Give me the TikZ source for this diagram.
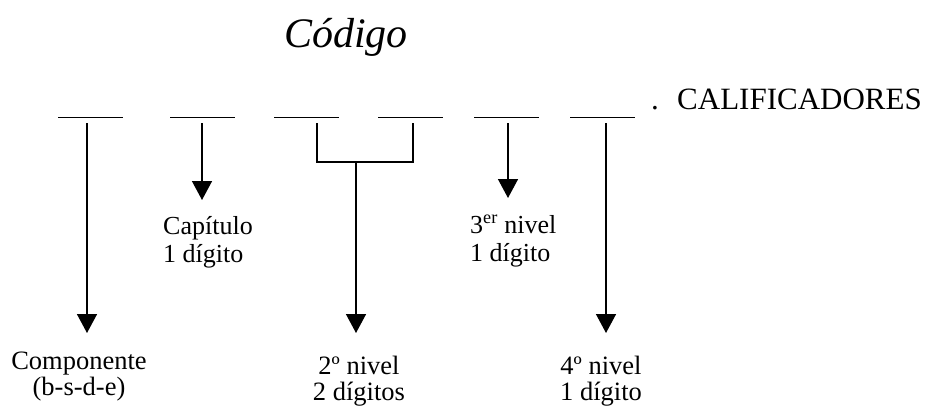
\documentclass[tikz,border=0pt]{standalone}
\usepackage{fontspec}
\setmainfont{Liberation Serif}
\usetikzlibrary{arrows.meta}
\begin{document}
\begin{tikzpicture}[x=1pt,y=-1pt,
  blank/.style={line width=1pt},
  conn/.style={line width=1.5pt},
  arr/.style={conn,-{Triangle[width=20pt,length=19pt]}},
  toplbl/.style={inner sep=0pt,font=\fontsize{26}{28}\selectfont,align=left,anchor=base west},
  botlbl/.style={inner sep=0pt,font=\fontsize{26.5}{26}\selectfont,align=center,anchor=base}]
\fill[white] (0,0) rectangle (928,407);
\useasboundingbox (0,0) rectangle (928,407);
% title
\node[inner sep=0pt,anchor=base west,font=\fontsize{42}{44}\selectfont\itshape] (title) at (284,47) {Código};
% blanks
\foreach \i/\a/\b in {1/58/123,2/170/235,3/274/339,4/378/443,5/474/539,6/570/635}{
  \draw[blank] (\a,117) -- (\b,117);
}
\coordinate (u1) at (87,123);
\coordinate (u2) at (202,123);
\coordinate (u3) at (317,123);
\coordinate (u4) at (413,123);
\coordinate (u5) at (508,123);
\coordinate (u6) at (606,123);
\node[inner sep=0pt,anchor=base,font=\fontsize{31}{33}\selectfont] (dot) at (655,109) {.};
\node[inner sep=0pt,anchor=base west,font=\fontsize{31}{33}\selectfont] (calif) at (677,109) {CALIFICADORES};
% tips
\coordinate (t1) at (87,333);
\coordinate (t2) at (202,200);
\coordinate (j3) at (356,162);
\coordinate (t3) at (356,333);
\coordinate (t5) at (508,198);
\coordinate (t6) at (606,333);
% connectors
\draw[arr] (u1) -- (t1);
\draw[arr] (u2) -- (t2);
\draw[conn] (u3) |- (j3) -| (u4);
\draw[arr] (j3) -- (t3);
\draw[arr] (u5) -- (t5);
\draw[arr] (u6) -- (t6);
% labels (anchor = baseline of the last line)
\node[toplbl] (cap) at (163,262) {Capítulo\\1 dígito};
\node[toplbl] (n3) at (470,261) {3\textsuperscript{er} nivel\\1 dígito};
\node[botlbl] (comp) at (79,395) {Componente\\(b-s-d-e)};
\node[botlbl] (n2) at (359,400) {2º nivel\\2 dígitos};
\node[botlbl] (n4) at (601,400) {4º nivel\\1 dígito};
\end{tikzpicture}
\end{document}
